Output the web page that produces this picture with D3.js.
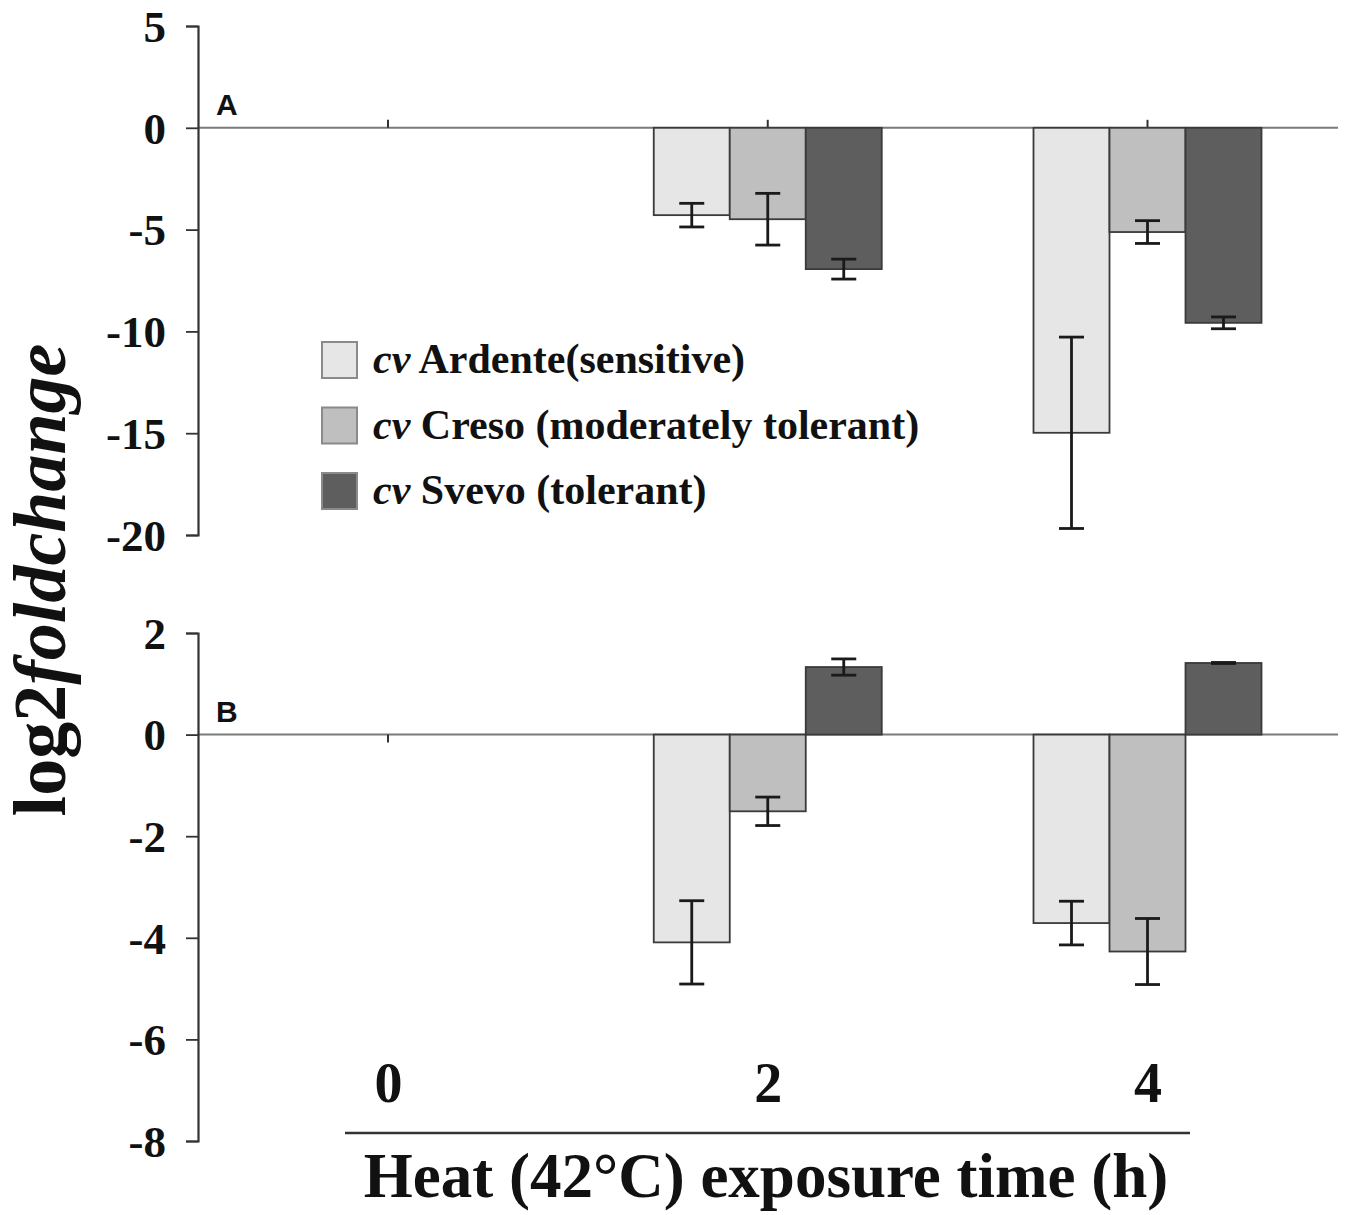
<!DOCTYPE html>
<html>
<head>
<meta charset="utf-8">
<script src="https://cdn.jsdelivr.net/npm/d3@7"></script>
<style>
  body { margin: 0; background: #fff; }
  svg { display: block; }
  .serif { font-family: "Liberation Serif", "Times New Roman", serif; font-weight: bold; }
</style>
</head>
<body>
<svg id="chart" width="1345" height="1215"></svg>
<script>
// exposure times (h)
const times = [0, 2, 4];

// cultivars (legend)
const cultivars = ["Ardente(sensitive)", "Creso (moderately tolerant)", "Svevo (tolerant)"];
const fills = ["#e6e6e6", "#bfbfbf", "#5e5e5e"];

// panel A: log2 fold change, per time
const ardenteA = [0, -4.29, -14.98];
const cresoA = [0, -4.49, -5.12];
const svevoA = [0, -6.94, -9.58];
const ardenteAErr = [0, 0.58, 4.7];
const cresoAErr = [0, 1.27, 0.56];
const svevoAErr = [0, 0.49, 0.29];

// panel B
const ardenteB = [0, -4.09, -3.71];
const cresoB = [0, -1.51, -4.27];
const svevoB = [0, 1.33, 1.41];
const ardenteBErr = [0, 0.82, 0.43];
const cresoBErr = [0, 0.28, 0.65];
const svevoBErr = [0, 0.16, 0.01];

const ticksA = [5, 0, -5, -10, -15, -20];
const ticksB = [2, 0, -2, -4, -6, -8];

const svg = d3.select("#chart");

const axisX = 198;
const x = d3.scaleLinear().domain([0, 4]).range([388, 1147.5]);
const inner = d3.scaleBand().domain(cultivars).range([-114, 114]);

// 把每个面板的数据整理成长表
function buildRows(values, errs) {
  const rows = [];
  times.forEach((t, i) => {
    cultivars.forEach((c, j) => {
      rows.push({ time: t, cultivar: c, idx: j, value: values[j][i], err: errs[j][i] });
    });
  });
  return rows;
}

const panels = [
  {
    label: "A",
    y: d3.scaleLinear().domain([-20, 5]).range([535, 26]),
    ticks: ticksA,
    rows: buildRows([ardenteA, cresoA, svevoA], [ardenteAErr, cresoAErr, svevoAErr]),
    tickDir: -1
  },
  {
    label: "B",
    y: d3.scaleLinear().domain([-8, 2]).range([1141, 633]),
    ticks: ticksB,
    rows: buildRows([ardenteB, cresoB, svevoB], [ardenteBErr, cresoBErr, svevoBErr]),
    tickDir: 1
  }
];

panels.forEach(p => {
  const g = svg.append("g");
  const y = p.y;

  // 零线
  g.append("line")
    .attr("x1", axisX).attr("x2", 1338)
    .attr("y1", y(0)).attr("y2", y(0))
    .attr("stroke", "#7a7a7a").attr("stroke-width", 2);

  // x 刻度（零线上的小短线）
  g.selectAll(".xt").data(times).enter().append("line")
    .attr("x1", d => x(d)).attr("x2", d => x(d))
    .attr("y1", y(0)).attr("y2", y(0) + 8 * p.tickDir)
    .attr("stroke", "#333").attr("stroke-width", 2);

  // 柱子
  const bars = p.rows.filter(d => d.value !== 0);
  g.selectAll("rect.bar").data(bars).enter().append("rect")
    .attr("class", "bar")
    .attr("x", d => x(d.time) + inner(d.cultivar))
    .attr("width", inner.bandwidth())
    .attr("y", d => Math.min(y(0), y(d.value)))
    .attr("height", d => Math.abs(y(d.value) - y(0)))
    .attr("fill", d => fills[d.idx])
    .attr("stroke", "#3a3a3a")
    .attr("stroke-width", 1.8);

  // 误差线
  const eb = g.selectAll("g.err").data(bars).enter().append("g")
    .attr("class", "err")
    .attr("transform", d => `translate(${x(d.time) + inner(d.cultivar) + inner.bandwidth() / 2},0)`);
  eb.append("line")
    .attr("y1", d => y(d.value - d.err)).attr("y2", d => y(d.value + d.err))
    .attr("stroke", "#1a1a1a").attr("stroke-width", 2.8);
  eb.selectAll("line.cap").data(d => [d.value - d.err, d.value + d.err]).enter().append("line")
    .attr("class", "cap")
    .attr("x1", -12.5).attr("x2", 12.5)
    .attr("y1", v => y(v)).attr("y2", v => y(v))
    .attr("stroke", "#1a1a1a").attr("stroke-width", 2.8);

  // y 轴
  const ax = g.append("g")
    .attr("transform", `translate(${axisX},0)`)
    .call(d3.axisLeft(y).tickValues(p.ticks).tickSize(12).tickSizeOuter(12).tickPadding(20)
      .tickFormat(d => String(d)));
  ax.select(".domain").attr("stroke", "#333").attr("stroke-width", 2.2);
  ax.selectAll(".tick line").attr("stroke", "#333").attr("stroke-width", 1.8);
  ax.selectAll(".tick text")
    .attr("class", "serif")
    .attr("fill", "#111")
    .style("font-size", "45px")
    .attr("dy", "0.34em");

  // 面板标签
  g.append("text")
    .attr("x", 216).attr("y", y(0) - 13)
    .style("font-family", "Liberation Sans, Arial, sans-serif")
    .style("font-weight", "bold")
    .style("font-size", "30px")
    .attr("fill", "#111")
    .text(p.label);
});

// 图例
const legend = svg.append("g").attr("transform", "translate(322,342)");
const li = legend.selectAll("g").data(cultivars).enter().append("g")
  .attr("transform", (d, i) => `translate(0,${i * 65.5})`);
li.append("rect")
  .attr("width", 35).attr("height", 36)
  .attr("fill", (d, i) => fills[i])
  .attr("stroke", "#8a8a8a").attr("stroke-width", 2);
const lt = li.append("text")
  .attr("class", "serif")
  .attr("x", 51).attr("y", 31)
  .style("font-size", "42px")
  .attr("fill", "#111");
lt.append("tspan").style("font-style", "italic").text("cv");
lt.append("tspan").text(d => " " + d);

// x 轴标签
svg.append("g")
  .attr("transform", "translate(0,1062)")
  .call(d3.axisBottom(x).tickValues(times).tickSize(0).tickPadding(0).tickFormat(d3.format("d")))
  .call(a => a.select(".domain").remove())
  .selectAll("text")
  .attr("class", "serif")
  .attr("fill", "#111")
  .style("font-size", "56px")
  .attr("dy", "0.71em");

svg.append("line")
  .attr("x1", 345).attr("x2", 1190)
  .attr("y1", 1133).attr("y2", 1133)
  .attr("stroke", "#333").attr("stroke-width", 2.5);

svg.append("text")
  .attr("class", "serif")
  .attr("x", 766).attr("y", 1197)
  .attr("text-anchor", "middle")
  .style("font-size", "63px")
  .attr("fill", "#111")
  .text("Heat (42°C) exposure time (h)");

// y 轴标题
const yt = svg.append("text")
  .attr("class", "serif")
  .attr("transform", "translate(65,580) rotate(-90)")
  .attr("text-anchor", "middle")
  .style("font-size", "74px")
  .attr("fill", "#111");
yt.append("tspan").text("log2");
yt.append("tspan").style("font-style", "italic").text("foldchange");
</script>
</body>
</html>
